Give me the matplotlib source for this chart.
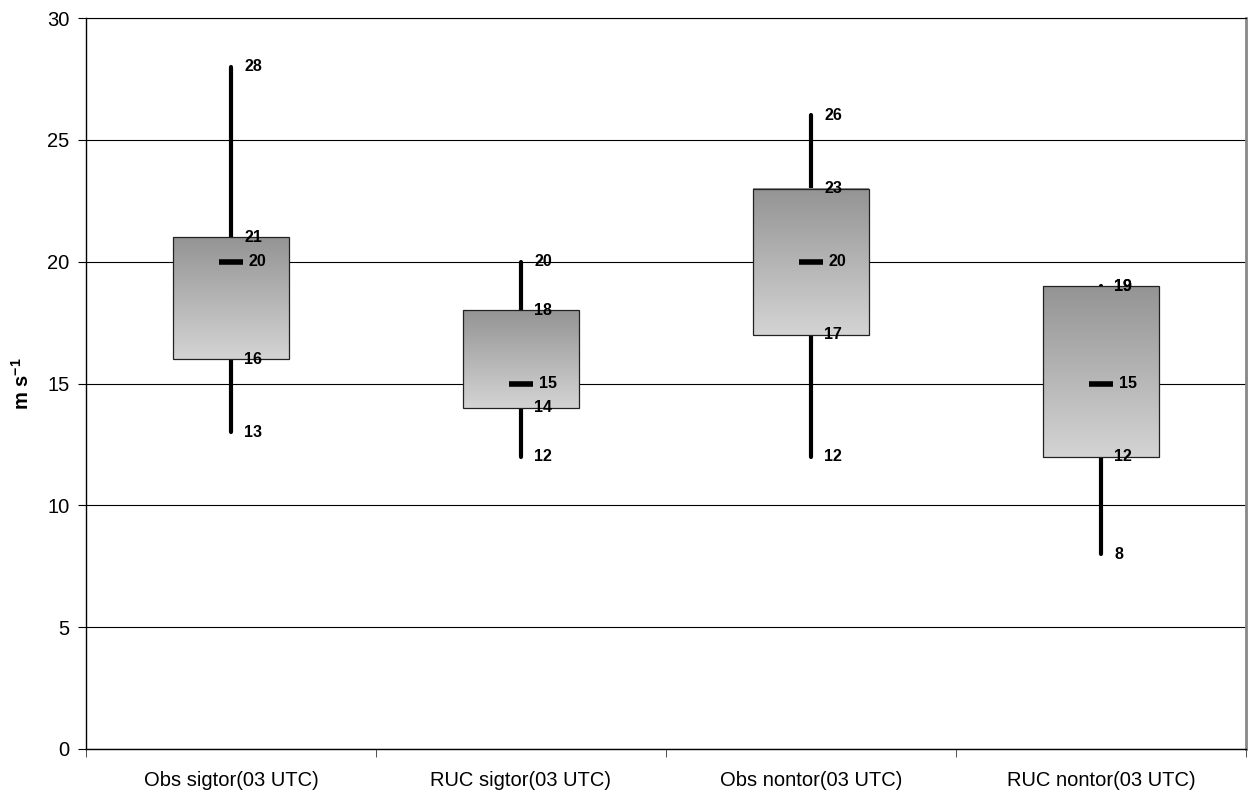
import matplotlib

matplotlib.use("Agg")
import matplotlib.pyplot as plt
import numpy as np
from matplotlib.colors import LinearSegmentedColormap
from matplotlib.patches import Rectangle

plt.rcParams["font.family"] = ["Liberation Sans", "DejaVu Sans"]
plt.rcParams["mathtext.fontset"] = "custom"
plt.rcParams["mathtext.rm"] = "Liberation Sans"
plt.rcParams["mathtext.bf"] = "Liberation Sans:bold"

categories = ["Obs sigtor(03 UTC)", "RUC sigtor(03 UTC)",
              "Obs nontor(03 UTC)", "RUC nontor(03 UTC)"]
mins = [13, 12, 12, 8]
q1 = [16, 14, 17, 12]
medians = [20, 15, 20, 15]
q3 = [21, 18, 23, 19]
maxs = [28, 20, 26, 19]

fig = plt.figure(figsize=(12.49, 7.97), dpi=100)
ax = fig.add_axes([86 / 1249, 48 / 797, 1160 / 1249, 731 / 797])

box_w = 0.4
tick_w = 0.08
grad = LinearSegmentedColormap.from_list("g", ["#d4d4d4", "#949494"])
gradient = np.linspace(0, 1, 256).reshape(-1, 1)

for i, cat in enumerate(categories):
    ax.plot([i, i], [mins[i], maxs[i]], color="black", linewidth=3,
            solid_capstyle="round", zorder=3)
    ax.imshow(gradient, extent=[i - box_w / 2, i + box_w / 2, q1[i], q3[i]],
              origin="lower", cmap=grad, aspect="auto", zorder=4)
    ax.add_patch(Rectangle((i - box_w / 2, q1[i]), box_w, q3[i] - q1[i],
                           fill=False, edgecolor="#222222", linewidth=0.9, zorder=5))
    ax.plot([i - tick_w / 2, i + tick_w / 2], [medians[i]] * 2, color="black",
            linewidth=4, solid_capstyle="butt", zorder=6)

    lab_kw = dict(ha="left", va="center", fontsize=11.5, fontweight="bold", zorder=7)
    for v in (mins[i], q1[i], q3[i], maxs[i]):
        ax.text(i + 0.045, v, f"{v}", **lab_kw)
    ax.text(i + 0.062, medians[i], f"{medians[i]}", **lab_kw)

ax.set_xlim(-0.5, 3.5)
ax.set_ylim(0, 30)
ax.set_yticks(range(0, 31, 5))
ax.yaxis.grid(True, color="black", linewidth=0.8)
ax.set_axisbelow(True)

ax.set_xticks(range(4))
ax.set_xticklabels(categories, fontsize=14.5)
ax.set_xticks(np.arange(-0.5, 4, 1), minor=True)
ax.tick_params(axis="x", which="major", length=0, pad=16)
ax.tick_params(axis="x", which="minor", length=6, direction="out", color="#333333")
ax.tick_params(axis="y", length=6, direction="out", labelsize=14.5, pad=6)

ax.set_ylabel("m s$^{\\mathbf{-1}}$", fontsize=14.5, fontweight="bold")
ax.yaxis.set_label_coords(-0.046, 0.5)

for s in ("left", "bottom"):
    ax.spines[s].set_color("black")
    ax.spines[s].set_linewidth(1.0)
ax.spines["top"].set_color("black")
ax.spines["top"].set_linewidth(0.8)
ax.spines["right"].set_color("#888888")
ax.spines["right"].set_linewidth(2.0)

fig.savefig("out.png", dpi=100)
